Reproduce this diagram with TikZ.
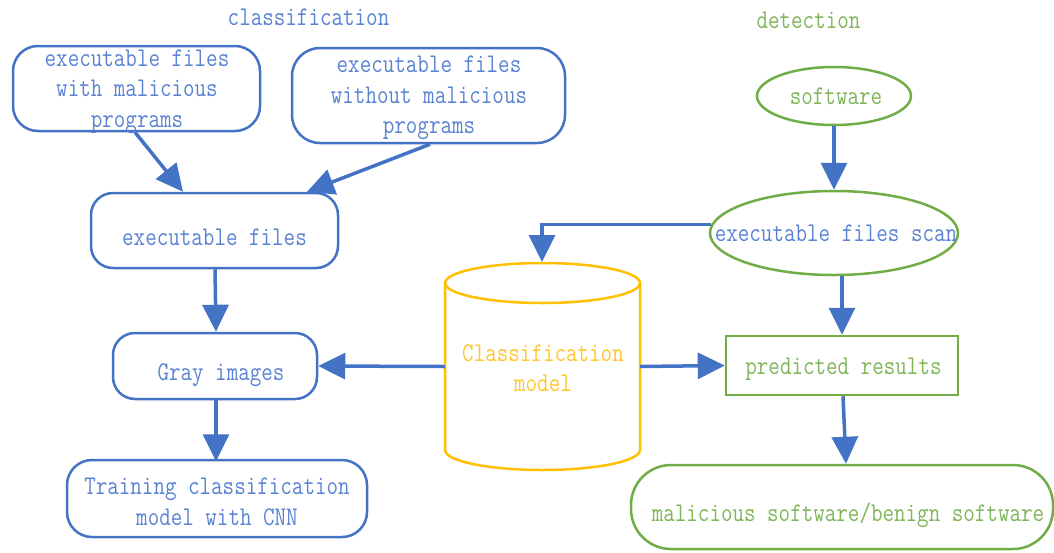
\documentclass[tikz,border=0pt]{standalone}
\usepackage{fontspec}
\setmonofont[FakeStretch=0.83]{Latin Modern Mono}
\usetikzlibrary{arrows.meta,shapes.geometric,calc}
\definecolor{lblue}{HTML}{4472C4}
\definecolor{lgreen}{HTML}{70AD47}
\definecolor{lyellow}{HTML}{FFC000}
\definecolor{tblue}{HTML}{5A82D2}
\definecolor{tgreen}{HTML}{7DB558}
\definecolor{tyellow}{HTML}{FFC52A}
\begin{document}
\begin{tikzpicture}[x=1pt,y=-1pt,
  txt/.style={inner sep=0, align=center, font=\ttfamily\fontsize{27}{30.5}\selectfont},
  bbox/.style={draw=lblue, line width=2.5, inner sep=0},
  gbox/.style={draw=lgreen, line width=2.5, inner sep=0},
  arr/.style={draw=lblue, line width=3.5, -{Triangle[length=27,width=26]}},
]
\useasboundingbox (0,0) rectangle (1054,552);

% titles
\node[txt, text=tblue] (tcls) at (308.5,17) {classification};
\node[txt, text=tgreen] (tdet) at (808.5,20) {detection};

% classification side
\node[bbox, rounded corners=25, minimum width=247, minimum height=85] (box1) at (136.5,88.5) {};
\node[txt, text=tblue] at (137,91.5) {executable files\\with malicious\\programs};
\node[bbox, rounded corners=28, minimum width=273, minimum height=95] (box2) at (428.5,95.5) {};
\node[txt, text=tblue] at (429,98) {executable files\\without malicious\\programs};
\node[bbox, rounded corners=22, minimum width=247, minimum height=75] (box3) at (214.5,230.5) {};
\node[txt, text=tblue] at (214.5,237) {executable files};
\node[bbox, rounded corners=22, minimum width=204, minimum height=66] (box4) at (215,366) {};
\node[txt, text=tblue] at (221,375) {Gray images};
\node[bbox, rounded corners=25, minimum width=300, minimum height=77] (box5) at (217,498.5) {};
\node[txt, text=tblue] at (217,502) {Training classification\\model with CNN};

% cylinder
\draw[lyellow, line width=2.5] (445,283) -- (445,450) arc[start angle=180, end angle=0, x radius=97.5, y radius=20] -- (640,283);
\draw[lyellow, line width=2.5] (542.5,283) ellipse[x radius=97.5, y radius=20];
\node[inner sep=0, minimum width=195, minimum height=207] (cyl) at (542.5,366.5) {};
\coordinate (cyltop) at (542,262);
\node[txt, text=tyellow] at (543,368) {Classification\\model};

% detection side
\node[gbox, ellipse, minimum width=154, minimum height=58] (soft) at (834,96) {};
\node[txt, text=tgreen] at (836,96) {software};
\node[gbox, ellipse, minimum width=248, minimum height=84] (scan) at (834,233) {};
\node[txt, text=tblue] at (836,233) {executable files scan};
\node[gbox, minimum width=232, minimum height=59] (pred) at (842,365.5) {};
\node[txt, text=tgreen] at (843.5,369) {predicted results};
\node[gbox, rounded corners=40, minimum width=422, minimum height=84] (res) at (842,507) {};
\node[txt, text=tgreen] at (848,515) {malicious software/benign software};

% connectors
\draw[arr] ($(box1.south)+(-1.5,0)$) -- ($(box3.north)+(-31.5,0)$);
\draw[arr] ($(box2.south)+(1.5,0)$) -- ($(box3.north)+(92.5,0)$);
\draw[arr] ($(box3.south)+(0.5,0)$) -- ($(box4.north)+(1,0)$);
\draw[arr] ($(box4.south)+(1,0)$) -- ($(box5.south)+(-1,-77)$);
\draw[arr] (cyl.west) -- (box4.east);
\draw[arr] (cyl.east) -- (pred.west);
\draw[arr] (soft.south) -- (scan.north);
\draw[arr] (scan.176.7) -| (cyltop);
\draw[arr] ($(scan.south)+(8,0)$) -- (pred.north);
\draw[arr] ($(pred.south)+(1,0)$) -- ($(res.north)+(4,0)$);
\end{tikzpicture}
\end{document}
